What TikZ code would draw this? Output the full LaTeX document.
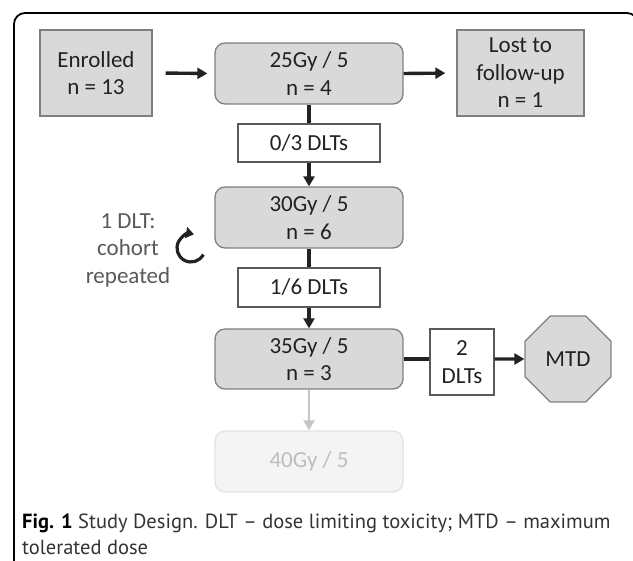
\documentclass[tikz,border=0pt]{standalone}
\usepackage{fontspec}
\setmainfont{Carlito}
\newfontfamily\capfont{PT Sans}
\usetikzlibrary{arrows.meta,shapes.geometric}

\definecolor{boxgray}{HTML}{D9D9D9}
\definecolor{edgegray}{HTML}{7F7F7F}
\definecolor{inkdark}{HTML}{222222}
\definecolor{notegray}{HTML}{595959}
\definecolor{fadefill}{HTML}{F4F4F4}
\definecolor{fadeedge}{HTML}{E2E2E2}
\definecolor{fadetext}{HTML}{BDBDBD}
\definecolor{fadearrow}{HTML}{C6C6C6}
\definecolor{captext}{HTML}{333333}

\begin{document}
\begin{tikzpicture}[x=1pt,y=-1pt,
  every node/.style={font=\fontsize{23}{27.5}\selectfont, text=inkdark, align=center, inner sep=0pt},
  graybox/.style={draw=edgegray, line width=1.3pt, fill=boxgray},
  dosebox/.style={graybox, rounded corners=10pt, minimum width=188pt, minimum height=61pt},
  dltbox/.style={draw=notegray, line width=1.2pt, fill=white},
  flow/.style={line width=3.4pt, draw=inkdark, -{Triangle[length=10pt,width=11pt]}},
  link/.style={line width=3.4pt, draw=inkdark},
]
\useasboundingbox (0,0) rectangle (633,561);

% outer frame (only its top-left part lies on the page)
\draw[line width=1.8pt, rounded corners=11pt] (14,600) -- (14,13) -- (638,13) -- (638,80);

% enrolment and first dose level
\node[graybox, minimum width=112pt, minimum height=86pt] (enrolled) at (96,73) {Enrolled\\n = 13};
\node[dosebox] (d25) at (309,73.5) {25Gy / 5\\n = 4};
\node[graybox, minimum width=127pt, minimum height=86pt] (lost) at (520.5,73) {Lost to\\follow-up\\n = 1};

% escalation steps
\node[dltbox, minimum width=142pt, minimum height=38pt] (dlt03) at (309,143) {0/3 DLTs};
\node[dosebox] (d30) at (309,217.5) {30Gy / 5\\n = 6};
\node[dltbox, minimum width=142pt, minimum height=39pt] (dlt16) at (309,287.5) {1/6 DLTs};
\node[dosebox, minimum height=60pt] (d35) at (309,359) {35Gy / 5\\n = 3};
\node[dltbox, minimum width=64pt, minimum height=66pt] (dlt2) at (462,362) {2\\DLTs};
\node[graybox, regular polygon, regular polygon sides=8, minimum size=93pt] (mtd) at (568,359) {MTD};

% dose level not reached
\node[dosebox, draw=fadeedge, fill=fadefill, text=fadetext] (d40) at (309,461.5) {40Gy / 5};

% repeated cohort note
\node[text=notegray] (note) at (128,250) {1 DLT:\\cohort\\repeated};
\coordinate (loopc) at (191,248);
\draw[line width=3.2pt, draw=inkdark, -{Triangle[length=8pt,width=11pt]}]
  ([shift={(28:14)}]loopc) arc[start angle=28, end angle=282, radius=14];

% connectors
\draw[flow, shorten <=13pt, shorten >=7pt] (enrolled.east) -- (d25.west);
\draw[flow, shorten >=11pt] (d25.east) -- (lost.west);
\draw[link] (d25.south) -- (dlt03.north);
\draw[flow] (dlt03.south) -- (d30.north);
\draw[link] (d30.south) -- (dlt16.north);
\draw[flow] (dlt16.south) -- (d35.north);
\draw[link] (d35.east) -- (d35.east -| dlt2.west);
\draw[flow] (dlt2.east |- d35.east) -- (mtd.west);
\draw[line width=2.4pt, draw=fadearrow, -{Triangle[length=10pt,width=11pt]}] (d35.south) -- (d40.north);

% caption
\node[anchor=west, align=left, text=captext, font=\capfont\fontsize{20.5}{26}\selectfont] (caption) at (22,534)
  {{\bfseries\color{black}Fig. 1} Study Design. DLT – dose limiting toxicity; MTD – maximum\\tolerated dose};
\end{tikzpicture}
\end{document}
